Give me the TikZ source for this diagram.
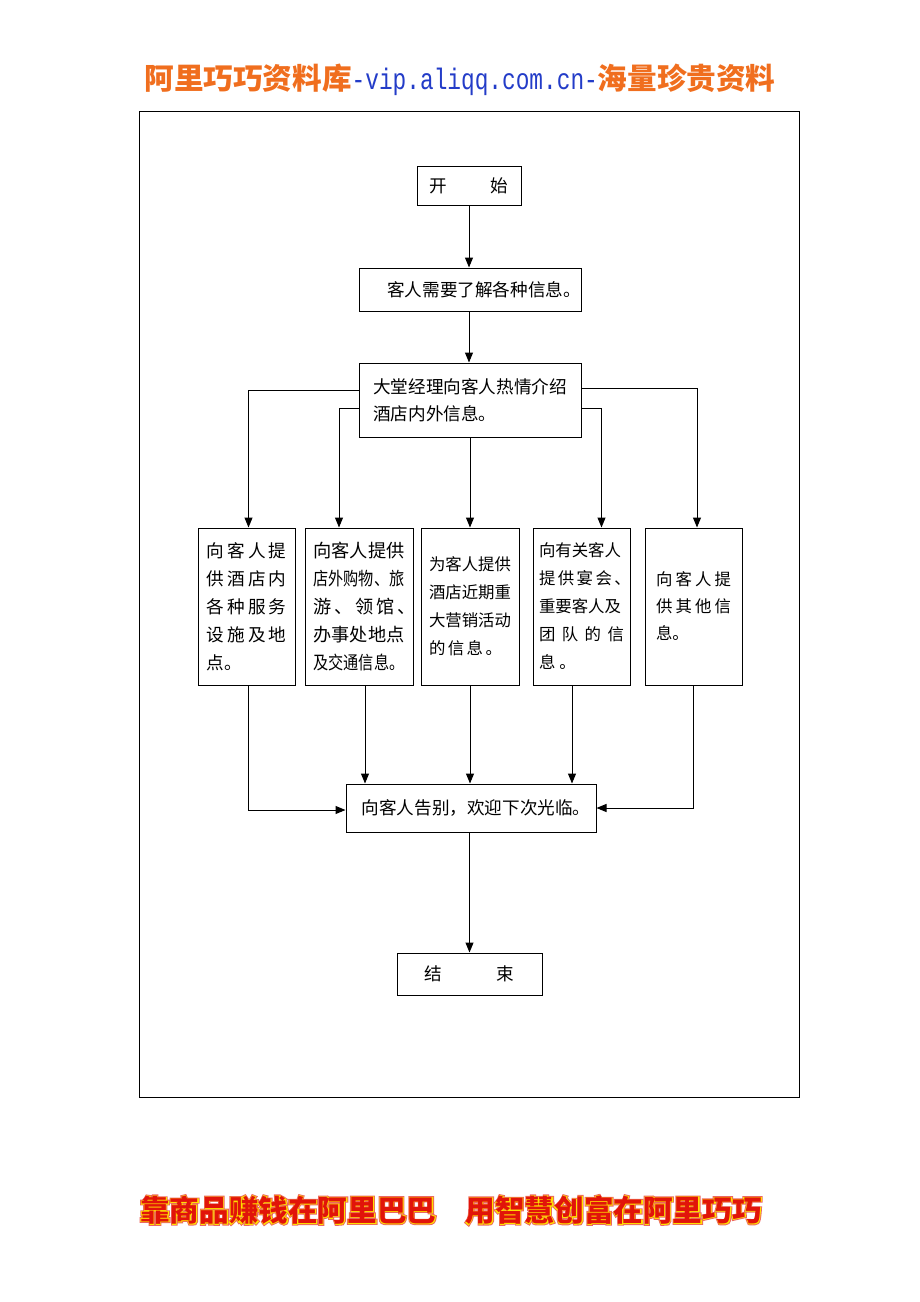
\documentclass[tikz,border=0pt]{standalone}
\usepackage{fontspec}
\usepackage{graphicx}
\usetikzlibrary{arrows.meta}
\newfontfamily\cjk{Noto Sans CJK SC}
\newfontfamily\monofnt{Liberation Mono}
\newfontfamily\fthalo[FakeBold=14]{Noto Sans CJK SC}
\newfontfamily\ftrim[FakeBold=8]{Noto Sans CJK SC}
\definecolor{hdorange}{RGB}{240,110,30}
\definecolor{hdblue}{RGB}{35,60,200}
\definecolor{ftred}{RGB}{225,20,10}
\definecolor{ftyellow}{RGB}{255,225,0}
\newcommand{\sprd}[2]{\makebox[#1][s]{#2}}
\newcommand{\foottext}{靠商品赚钱在阿里巴巴\hspace*{1em}用智慧创富在阿里巧巧}

\begin{document}
\begin{tikzpicture}[x=0.5pt, y=-0.5pt,
  box/.style={draw, line width=0.5pt, inner sep=0pt, align=left,
              font=\cjk\fontsize{8.8}{13.5}\selectfont},
  sz/.style 2 args={minimum width=#1*0.5pt, minimum height=#2*0.5pt},
  fs/.style={font=\cjk\fontsize{#1}{14}\selectfont},
  arr/.style={line width=0.5pt, -{Triangle[length=5pt, width=4pt]}},
  foot/.style={font=\fontsize{14.8}{16}\selectfont, inner sep=0pt},
]
\useasboundingbox (0,0) rectangle (920,1302);

% Header and frame
\node[font=\cjk\bfseries\fontsize{14.8}{16}\selectfont, inner sep=0pt] (header) at (460,80)
  {\textcolor{hdorange}{阿里巧巧资料库}\textcolor{hdblue}{\scalebox{0.77}[1]{\mdseries\monofnt -vip.aliqq.com.cn-}}\textcolor{hdorange}{海量珍贵资料}};
\draw[line width=0.5pt] (139,111) rectangle (799,1097);

% Main chain
\node[box, sz={104}{39}] (start) at (469,185.5) {\sprd{39.5pt}{开 始}};
\node[box, sz={222}{43}] (need) at (470,289.5) {\hspace*{14pt}客人需要了解各种信息。};
\node[box, sz={222}{74}] (mgr) at (470,400) {大堂经理向客人热情介绍\\酒店内外信息。};

% Five kinds of information
\node[box, sz={97}{157}, fs=8.8] (svc) at (246.5,606.5)
  {\sprd{40pt}{向 客 人 提}\\\sprd{40pt}{供 酒 店 内}\\\sprd{40pt}{各 种 服 务}\\\sprd{40pt}{设 施 及 地}\\点。};
\node[box, sz={108}{157}, fs=9.1] (shop) at (359,606.5)
  {向客人提供\\\makebox[45.5pt][l]{\scalebox{0.833}[1]{店外购物、旅}}\\\sprd{45.5pt}{游 、 领 馆 、}\\办事处地点\\\makebox[45.5pt][l]{\scalebox{0.833}[1]{及交通信息。}}};
\node[box, sz={98}{157}, fs=8.2] (promo) at (470,606.5)
  {为客人提供\\酒店近期重\\大营销活动\\\sprd{35pt}{的 信 息 。}};
\node[box, sz={97}{157}, fs=8.2] (banquet) at (581.5,606.5)
  {向有关客人\\\sprd{42.5pt}{提 供 宴 会 、}\\重要客人及\\\sprd{42.5pt}{团 队 的 信}\\息\hspace{2pt}。};
\node[box, sz={97}{157}, font=\cjk\fontsize{8.2}{13.5}\selectfont] (other) at (693.5,606.5)
  {\sprd{37.5pt}{向 客 人 提}\\\sprd{37.5pt}{供 其 他 信}\\息。};

\node[box, sz={250}{48}] (bye) at (471,808) {\hspace*{5pt}向客人告别，欢迎下次光临。};
\node[box, sz={145}{42}] (finish) at (469.5,974) {\sprd{45pt}{结 束}};

% Connectors
\draw[arr] (start.south) -- (start.south |- need.north);
\draw[arr] (start.south |- need.south) -- (start.south |- mgr.north);

\draw[arr] (mgr.west |- 0,390) -| ([xshift=1pt]svc.north);
\draw[arr] (mgr.west |- 0,408) -| ([xshift=-10pt]shop.north);
\draw[arr] (mgr.south) -- (mgr.south |- promo.north);
\draw[arr] (mgr.east |- 0,408) -| ([xshift=10pt]banquet.north);
\draw[arr] (mgr.east |- 0,388) -| ([xshift=1.75pt]other.north);

\draw[arr] ([xshift=1pt]svc.south) |- ([yshift=-1pt]bye.west);
\draw[arr] ([xshift=3pt]shop.south) -- ([xshift=3pt]shop.south |- bye.north);
\draw[arr] (promo.south) -- (promo.south |- bye.north);
\draw[arr] ([xshift=-4.75pt]banquet.south) -- ([xshift=-4.75pt]banquet.south |- bye.north);
\draw[arr] (other.south) |- (bye.east);

\draw[arr] (finish.north |- bye.south) -- (finish.north);

% Footer slogan, outlined
\node[foot, text=ftred!65] (fthalo) at (451,1210) {\fthalo\foottext};
\node[foot, text=ftyellow] (ftrim) at (fthalo) {\ftrim\foottext};
\node[foot, text=ftred] (footer) at (fthalo) {\cjk\bfseries\foottext};
\end{tikzpicture}
\end{document}
